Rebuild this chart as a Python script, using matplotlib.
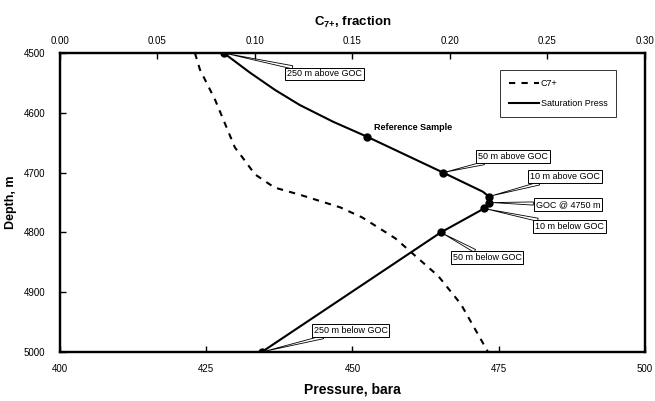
import matplotlib
matplotlib.use('Agg')
import matplotlib.pyplot as plt
from matplotlib.ticker import FormatStrFormatter

plt.rcParams['font.family'] = ['Liberation Sans', 'DejaVu Sans']
plt.rcParams['mathtext.fontset'] = 'custom'
plt.rcParams['mathtext.rm'] = 'Liberation Sans'
plt.rcParams['mathtext.bf'] = 'Liberation Sans:bold'

# saturation pressure trace (bara) vs depth (m)
sat_depth = [4500, 4533, 4562, 4587, 4615, 4640, 4700, 4732, 4740, 4750, 4760, 4800, 5000]
sat_press = [428.0, 432.5, 436.8, 441.0, 446.7, 452.5, 465.5, 472.3, 473.3, 473.4, 472.5,
             465.1, 434.5]

# sampled depths shown as dots
pt_depth = [4500, 4640, 4700, 4740, 4750, 4760, 4800, 5000]
pt_press = [428.0, 452.5, 465.5, 473.3, 473.4, 472.5, 465.1, 434.5]

# C7+ mole fraction vs depth
c7_depth = [4500, 4528, 4578, 4658, 4673, 4703, 4725, 4737, 4758, 4775, 4810, 4873, 4920, 5000]
c7_frac = [0.0692, 0.0718, 0.0795, 0.0897, 0.0932, 0.1000, 0.1100, 0.1230, 0.1436, 0.1550,
           0.1720, 0.1940, 0.2056, 0.2195]

# callout labels: (text, depth of point, pressure of point, text pressure, text depth)
callouts = [
    ('250 m above GOC', 4500, 428.0, 445.2, 4535),
    ('50 m above GOC', 4700, 465.5, 477.4, 4673),
    ('10 m above GOC', 4740, 473.3, 486.3, 4707),
    ('GOC @ 4750 m', 4750, 473.4, 486.8, 4753),
    ('10 m below GOC', 4760, 472.5, 487.1, 4790),
    ('50 m below GOC', 4800, 465.1, 473.0, 4842),
    ('250 m below GOC', 5000, 434.5, 449.7, 4964),
]

fig = plt.figure(figsize=(6.55, 4.01), dpi=100)
ax = fig.add_axes([0.0916, 0.1222, 0.8931, 0.7456])
ax2 = ax.twiny()

sat_line, = ax.plot(sat_press, sat_depth, color='black', lw=1.5, zorder=3,
                    label='Saturation Press')
ax.plot(pt_press, pt_depth, 'o', color='black', ms=5, zorder=4)
c7_line, = ax2.plot(c7_frac, c7_depth, color='black', lw=1.5, ls=(0, (3, 3)),
                    label='C7+')

ax.set_xlim(400, 500)
ax.set_ylim(5000, 4500)
ax.set_xticks([400, 425, 450, 475, 500])
ax.set_yticks([4500, 4600, 4700, 4800, 4900, 5000])
ax2.set_xlim(0, 0.30)
ax2.set_xticks([0.0, 0.05, 0.10, 0.15, 0.20, 0.25, 0.30])
ax2.xaxis.set_major_formatter(FormatStrFormatter('%.2f'))

for a in (ax, ax2):
    for s in a.spines.values():
        s.set_linewidth(1.6)
ax.tick_params(axis='x', direction='in', labelsize=7, length=4, width=1, pad=8.5)
ax.tick_params(axis='y', direction='in', labelsize=7, length=4, width=1, pad=10.5)
ax2.tick_params(axis='x', direction='in', labelsize=7, length=4, width=1, pad=5)

ax.set_xlabel('Pressure, bara', fontsize=10, fontweight='bold', labelpad=6)
ax.set_ylabel('Depth, m', fontsize=9, fontweight='bold', labelpad=5)
ax2.set_xlabel(r'$\mathbf{C_{7{+}}}$, fraction', fontsize=9.5, fontweight='bold', labelpad=7)

for text, d, p, tx, ty in callouts:
    ax.annotate(text, xy=(p, d), xytext=(tx, ty), fontsize=6.5, ha='center', va='center',
                bbox=dict(boxstyle='square,pad=0.2', fc='white', ec='black', lw=0.7),
                arrowprops=dict(arrowstyle='wedge,tail_width=0.35', fc='white', ec='black',
                                lw=0.6, shrinkA=0, shrinkB=2),
                zorder=5, annotation_clip=False)

ax.text(453.7, 4624, 'Reference Sample', fontsize=6.5, fontweight='bold', ha='left',
        va='center')

leg = ax.legend([c7_line, sat_line], ['C7+', 'Saturation Press'], loc='upper left',
                bbox_to_anchor=(0.752, 0.943), borderaxespad=0, fontsize=6.5, frameon=True,
                fancybox=False, handlelength=3.3, handletextpad=0.2, borderpad=1.0,
                labelspacing=1.2)
leg.get_frame().set_edgecolor('black')
leg.get_frame().set_linewidth(0.7)

fig.savefig('out.png', dpi=100)
